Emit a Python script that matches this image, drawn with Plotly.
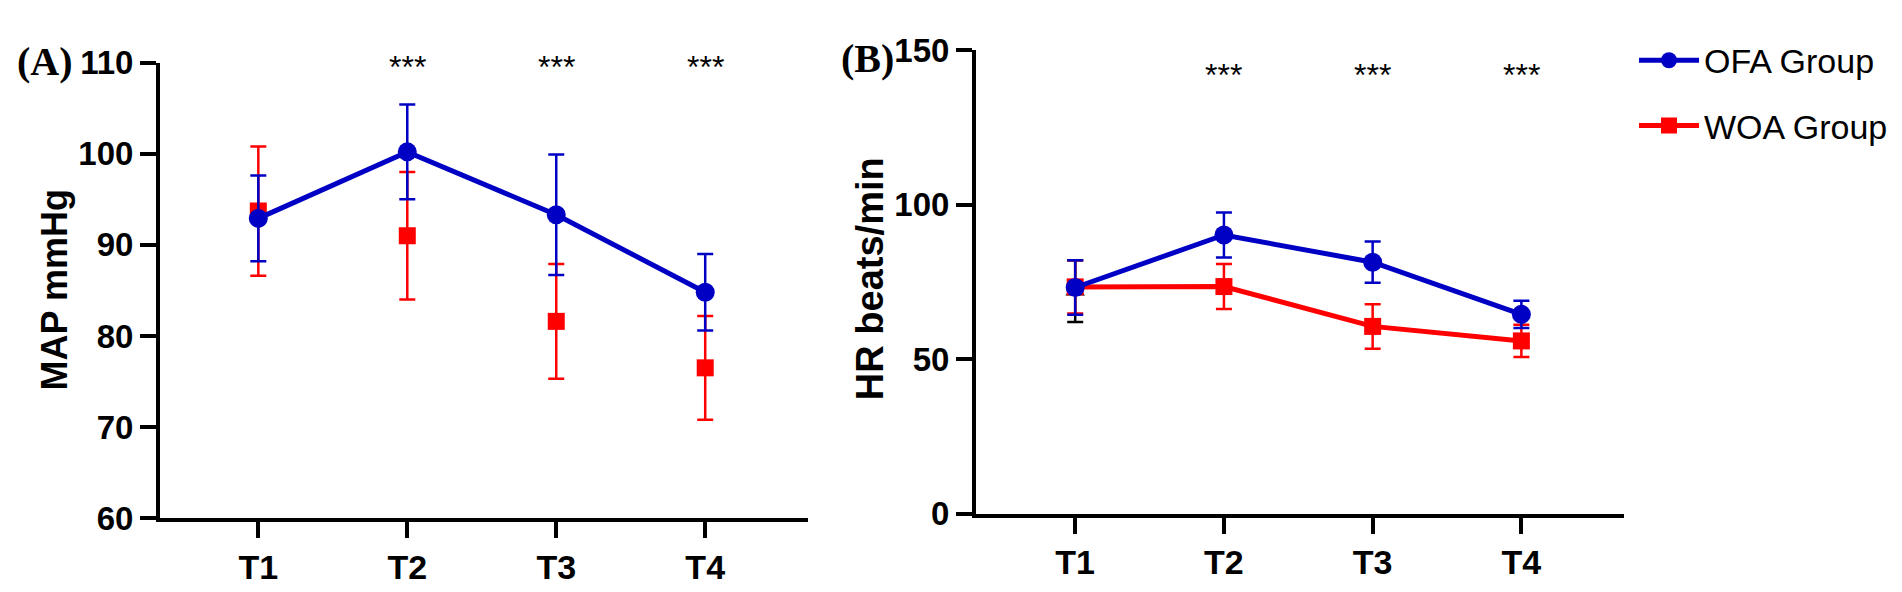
import plotly.graph_objects as go

W, H = 1902, 592

times = ["T1", "T2", "T3", "T4"]
x_pos = [1, 2, 3, 4]

# MAP (mmHg), mean and SD
map_ofa_mean = [92.9, 100.2, 93.3, 84.8]
map_ofa_sd = [4.7, 5.2, 6.6, 4.2]
map_woa_mean = [93.7, 91.0, 81.6, 76.5]
map_woa_sd = [7.1, 7.0, 6.3, 5.7]

# HR (beats/min), panel B
hr_ofa_mean = [73.2, 90.2, 81.4, 64.5]
hr_ofa_sd = [8.8, 7.3, 6.7, 4.4]
hr_woa_mean = [73.4, 73.5, 60.6, 55.9]
hr_woa_sd = [8.6, 7.3, 7.2, 5.2]
# stray black point hidden behind T1 in panel B
hr_extra_x = [1]
hr_extra_mean = [72.0]
hr_extra_sd = [10.0]

sig_marks = ["", "***", "***", "***"]

BLUE = "#0000C4"
RED = "#FF0000"
SANS = "Liberation Sans, Arial, sans-serif"
SERIF = "Liberation Serif, Times New Roman, serif"


def px_x(p):
    return p / W


def px_y(p):
    return 1 - p / H


def err(sd, color):
    return dict(type="data", array=sd, visible=True, color=color,
                thickness=2.5, width=8)


fig = go.Figure()

# panel A: WOA markers only, OFA joined by a line
fig.add_trace(go.Scatter(
    x=x_pos, y=map_woa_mean, mode="markers", name="WOA Group",
    marker=dict(symbol="square", size=17, color=RED),
    error_y=err(map_woa_sd, RED), showlegend=False,
    xaxis="x", yaxis="y"))
fig.add_trace(go.Scatter(
    x=x_pos, y=map_ofa_mean, mode="lines+markers", name="OFA Group",
    line=dict(color=BLUE, width=5),
    marker=dict(symbol="circle", size=19, color=BLUE),
    error_y=err(map_ofa_sd, BLUE), showlegend=False,
    xaxis="x", yaxis="y"))

# panel B
fig.add_trace(go.Scatter(
    x=hr_extra_x, y=hr_extra_mean, mode="markers",
    marker=dict(symbol="triangle-up", size=17, color="black"),
    error_y=err(hr_extra_sd, "black"), showlegend=False,
    xaxis="x2", yaxis="y2"))
fig.add_trace(go.Scatter(
    x=x_pos, y=hr_woa_mean, mode="lines+markers", name="WOA Group",
    line=dict(color=RED, width=5),
    marker=dict(symbol="square", size=17, color=RED),
    error_y=err(hr_woa_sd, RED), legendrank=2, legendgroup="woa",
    xaxis="x2", yaxis="y2"))
fig.add_trace(go.Scatter(
    x=x_pos, y=hr_ofa_mean, mode="lines+markers", name="OFA Group",
    line=dict(color=BLUE, width=5),
    marker=dict(symbol="circle", size=19, color=BLUE),
    error_y=err(hr_ofa_sd, BLUE), legendrank=1, legendgroup="ofa",
    xaxis="x2", yaxis="y2"))

axis_common = dict(
    showline=True, linecolor="black", linewidth=4,
    ticks="outside", ticklen=16, tickwidth=4, tickcolor="black",
    showgrid=False, zeroline=False,
    tickfont=dict(family=SANS, size=33, color="black", weight="bold"),
)

fig.update_layout(
    width=W, height=H,
    margin=dict(l=0, r=0, t=0, b=0),
    paper_bgcolor="white", plot_bgcolor="white",
    xaxis=dict(domain=[px_x(152), px_x(800)], range=[0.34, 4.69],
               tickvals=x_pos, ticktext=times, anchor="y", **axis_common),
    yaxis=dict(domain=[px_y(525), px_y(39)], range=[60, 110],
               tickvals=[60, 70, 80, 90, 100, 110], anchor="x", **axis_common),
    xaxis2=dict(domain=[px_x(968), px_x(1616)], range=[0.333, 4.69],
                tickvals=x_pos, ticktext=times, anchor="y2", **axis_common),
    yaxis2=dict(domain=[px_y(520), px_y(26)], range=[0, 150],
                tickvals=[0, 50, 100, 150], anchor="x2", **axis_common),
    legend=dict(x=px_x(1626), y=px_y(6), xanchor="left", yanchor="top",
                font=dict(family=SANS, size=34, color="black"),
                itemwidth=60, tracegroupgap=18, bgcolor="rgba(0,0,0,0)"),
)
fig.update_xaxes(tickfont_size=34)

annotations = [
    dict(text="(A)", x=px_x(37), y=px_y(38), xref="paper", yref="paper",
         xanchor="center", yanchor="middle", showarrow=False,
         font=dict(family=SERIF, size=40, color="black", weight="bold")),
    dict(text="(B)", x=px_x(859), y=px_y(35), xref="paper", yref="paper",
         xanchor="center", yanchor="middle", showarrow=False,
         font=dict(family=SERIF, size=40, color="black", weight="bold")),
    dict(text="MAP mmHg", x=px_x(46), y=px_y(282), xref="paper", yref="paper",
         xanchor="center", yanchor="middle", textangle=-90, showarrow=False,
         font=dict(family=SANS, size=36, color="black", weight="bold")),
    dict(text="HR beats/min", x=px_x(862), y=px_y(270), xref="paper", yref="paper",
         xanchor="center", yanchor="middle", textangle=-90, showarrow=False,
         font=dict(family=SANS, size=38, color="black", weight="bold")),
]
for xv, mark in zip(x_pos, sig_marks):
    if not mark:
        continue
    annotations.append(dict(text=mark, x=xv, y=109.5, xref="x", yref="y",
                            xanchor="center", yanchor="middle", showarrow=False,
                            font=dict(family=SANS, size=32, color="black")))
    annotations.append(dict(text=mark, x=xv, y=141.9, xref="x2", yref="y2",
                            xanchor="center", yanchor="middle", showarrow=False,
                            font=dict(family=SANS, size=32, color="black")))
fig.update_layout(annotations=annotations)

fig.write_html("out.html")
